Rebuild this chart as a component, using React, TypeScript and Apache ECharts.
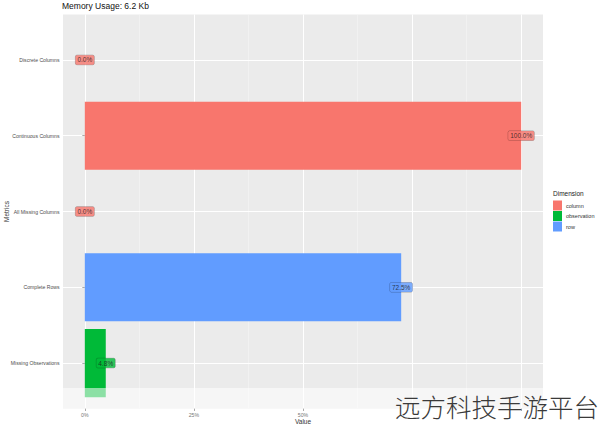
import React, { useEffect, useRef } from "react";
import * as echarts from "echarts";

const categories = [
  "Discrete Columns",
  "Continuous Columns",
  "All Missing Columns",
  "Complete Rows",
  "Missing Observations",
];
const categoryDimension = ["column", "column", "column", "row", "observation"];
const values = [0, 100, 0, 72.5, 4.8];
const dimensions = ["column", "observation", "row"];
const dimensionColors = ["#F8766D", "#00BA38", "#619CFF"];
const majorTicks = [0, 25, 50, 75, 100];
const tickLabels = [0, 25, 50];
const minorTicks = [12.5, 37.5, 62.5, 87.5];
const categoryPositions = [1, 2, 3, 4, 5];

const FONT = "Liberation Sans, Arial, sans-serif";

export default function App() {
  const ref = useRef<HTMLDivElement>(null);
  useEffect(() => {
    if (!ref.current) return;
    const chart = echarts.init(ref.current, undefined, { renderer: "svg" });
    const colorOf = (d: string) => dimensionColors[dimensions.indexOf(d)];

    const barSeries = dimensions.map((d, di) => ({
      name: d,
      type: "bar",
      xAxisIndex: 0,
      yAxisIndex: 0,
      barWidth: "90%",
      barGap: "-100%",
      itemStyle: { color: dimensionColors[di] },
      data: values.map((v, i) => (categoryDimension[i] === d ? v : "-")),
      z: 3,
    }));

    const labelSeries = {
      type: "scatter",
      xAxisIndex: 0,
      yAxisIndex: 0,
      symbolSize: 0,
      silent: true,
      z: 5,
      data: values.map((v, i) => ({
        value: [v, i],
        label: {
          show: true,
          position: "inside",
          formatter: v.toFixed(1) + "%",
          fontSize: 6.5,
          fontFamily: FONT,
          color: "#1a1a1a",
          backgroundColor: colorOf(categoryDimension[i]),
          borderColor: "rgba(0,0,0,0.35)",
          borderWidth: 0.5,
          borderRadius: 1.5,
          padding: [1.5, 2, 1, 2],
        },
      })),
    };

    const panelLeft = 63;
    const panelWidth = 480;
    const panelTop = 14.5;
    const panelHeight = 394;
    const band = panelHeight / 5.2;

    chart.setOption({
      animation: false,
      textStyle: { fontFamily: FONT },
      title: {
        text: "Memory Usage: 6.2 Kb",
        left: 62,
        top: 1.5,
        padding: 0,
        textStyle: { fontSize: 8.5, fontWeight: "normal", color: "#111", fontFamily: FONT },
      },
      legend: {
        data: dimensions,
        orient: "vertical",
        left: 553,
        top: 200.5,
        icon: "rect",
        itemWidth: 9,
        itemHeight: 10,
        itemGap: 0.5,
        padding: 0,
        textStyle: { fontSize: 5.5, color: "#333", fontFamily: FONT, padding: [0, 0, 0, -1] },
      },
      grid: [
        {
          left: panelLeft,
          width: panelWidth,
          top: panelTop + 0.1 * band,
          height: band * 5,
          containLabel: false,
          outerBoundsMode: "none",
        },
        {
          left: panelLeft,
          width: panelWidth,
          top: panelTop,
          height: panelHeight,
          show: true,
          backgroundColor: "#EBEBEB",
          borderWidth: 0,
          containLabel: false,
          outerBoundsMode: "none",
        },
      ],
      xAxis: [
        { gridIndex: 0, type: "value", min: -5, max: 105, show: false },
        {
          gridIndex: 1,
          type: "value",
          min: -5,
          max: 105,
          position: "bottom",
          name: "Value",
          nameLocation: "middle",
          nameGap: 9,
          nameMoveOverlap: false,
          nameTextStyle: { fontSize: 6.5, color: "#333", fontFamily: FONT },
          axisLine: { show: false },
          axisTick: {
            show: true,
            customValues: majorTicks,
            length: 2.5,
            lineStyle: { color: "#555", width: 0.5 },
          },
          axisLabel: {
            customValues: tickLabels,
            formatter: (v: number) => v + "%",
            fontSize: 5.2,
            color: "#777",
            margin: 4,
            fontFamily: FONT,
          },
          splitLine: { show: true, lineStyle: { color: "#FFFFFF", width: 1 } },
          z: 1,
        },
        {
          gridIndex: 1,
          type: "value",
          min: -5,
          max: 105,
          position: "top",
          axisLine: { show: false },
          axisTick: { show: false, customValues: minorTicks },
          axisLabel: { show: false },
          splitLine: { show: true, lineStyle: { color: "#F7F7F7", width: 0.5 } },
          z: 0,
        },
      ],
      yAxis: [
        {
          gridIndex: 0,
          type: "category",
          data: categories,
          inverse: true,
          show: false,
        },
        {
          gridIndex: 1,
          type: "value",
          min: 0.4,
          max: 5.6,
          inverse: true,
          name: "Metrics",
          nameLocation: "middle",
          nameRotate: 90,
          nameGap: 53,
          nameMoveOverlap: false,
          nameTextStyle: { fontSize: 6.5, color: "#333", fontFamily: FONT },
          axisLine: { show: false },
          axisTick: {
            show: true,
            customValues: categoryPositions,
            length: 2.5,
            lineStyle: { color: "#555", width: 0.5 },
          },
          axisLabel: {
            customValues: categoryPositions,
            formatter: (v: number) => categories[Math.round(v) - 1] ?? "",
            fontSize: 5.1,
            color: "#4D4D4D",
            margin: 3.5,
            fontFamily: FONT,
          },
          splitLine: { show: true, lineStyle: { color: "#FFFFFF", width: 1 } },
          z: 1,
        },
      ],
      series: [...barSeries, labelSeries],
      graphic: [
        {
          type: "text",
          left: 553,
          top: 190,
          style: { text: "Dimension", fontSize: 6.5, fill: "#222", fontFamily: FONT },
        },
        {
          type: "rect",
          shape: { x: panelLeft, y: 388, width: panelWidth, height: panelTop + panelHeight - 388 },
          style: { fill: "rgba(255,255,255,0.55)" },
          z: 100,
          silent: true,
        },
        {
          type: "text",
          x: 395,
          y: 393,
          z: 101,
          style: {
            text: "远方科技手游平台",
            fontSize: 25.5,
            fontFamily: "Noto Sans CJK SC",
            fontWeight: 300,
            fill: "#3a3a3a",
            textVerticalAlign: "top",
          },
        },
      ],
    });
    return () => chart.dispose();
  }, []);
  return (
    <div
      ref={ref}
      style={{ position: "fixed", left: 0, top: 0, width: 600, height: 428, background: "#fff" }}
    />
  );
}
